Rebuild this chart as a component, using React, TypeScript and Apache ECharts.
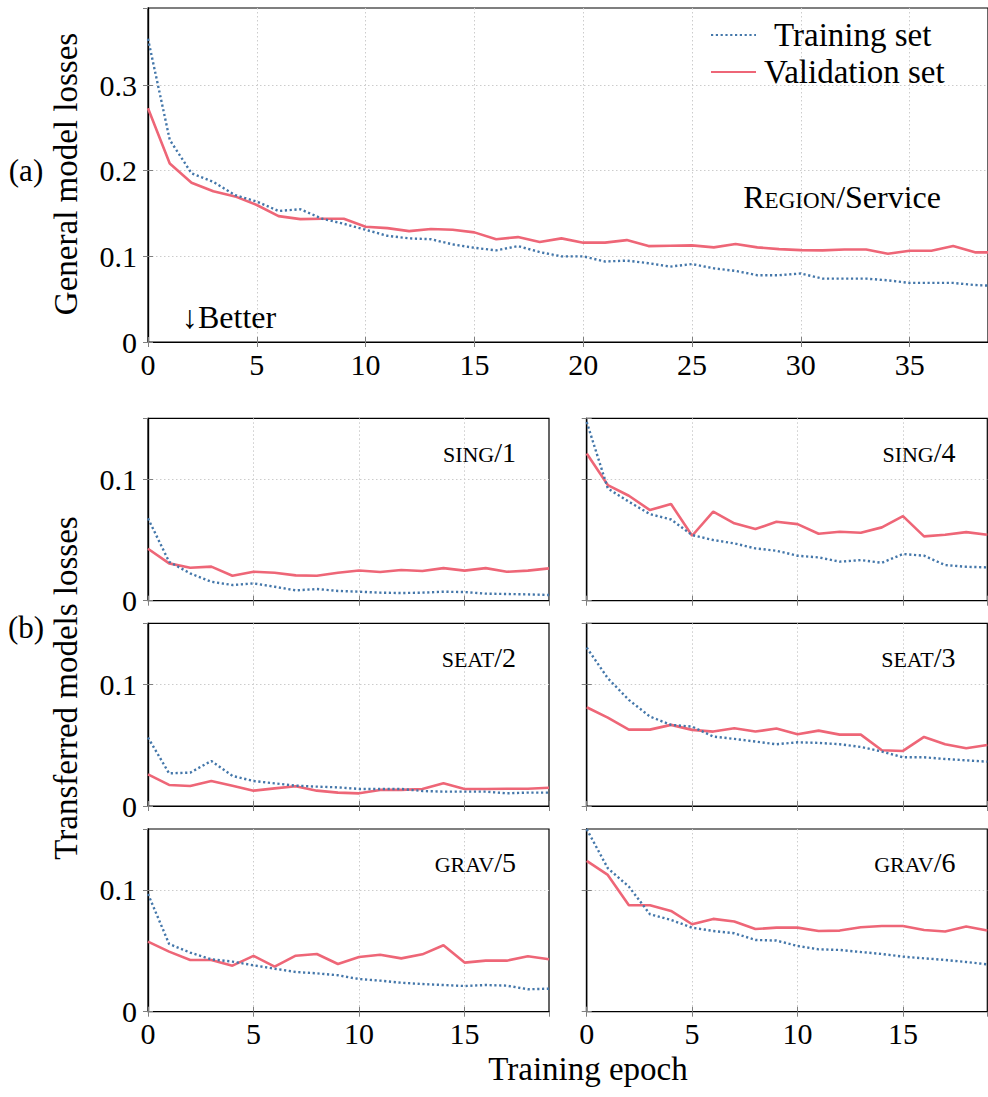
import React, { useEffect, useRef } from "react";
import * as echarts from "echarts";

// ---------- Data ----------
const generalTraining = [0.354, 0.236, 0.197, 0.187, 0.1715, 0.164, 0.153, 0.155, 0.144, 0.138, 0.131, 0.124, 0.121, 0.12, 0.114, 0.11, 0.107, 0.112, 0.105, 0.1, 0.1, 0.094, 0.095, 0.092, 0.088, 0.091, 0.086, 0.083, 0.078, 0.078, 0.08, 0.074, 0.074, 0.074, 0.072, 0.069, 0.069, 0.069, 0.0665, 0.0655];
const generalValidation = [0.273, 0.2085, 0.186, 0.176, 0.17, 0.16, 0.147, 0.1435, 0.144, 0.144, 0.1346, 0.133, 0.1295, 0.132, 0.131, 0.128, 0.12, 0.1225, 0.1167, 0.121, 0.116, 0.116, 0.119, 0.112, 0.1124, 0.1128, 0.1105, 0.1144, 0.1105, 0.1085, 0.1073, 0.107, 0.108, 0.108, 0.103, 0.1066, 0.1066, 0.112, 0.1047, 0.1047];

const sing1Training = [0.0677, 0.032, 0.0225, 0.0156, 0.0129, 0.0142, 0.0115, 0.0085, 0.0096, 0.008, 0.0074, 0.0066, 0.0063, 0.0066, 0.0074, 0.0071, 0.0058, 0.0055, 0.0052, 0.0047];
const sing1Validation = [0.0427, 0.0307, 0.0271, 0.028, 0.0205, 0.0238, 0.023, 0.0208, 0.0205, 0.023, 0.0249, 0.0236, 0.0252, 0.0244, 0.0268, 0.0247, 0.0268, 0.0238, 0.0247, 0.0266];

const sing4Training = [0.147, 0.0923, 0.0814, 0.0712, 0.0668, 0.054, 0.0499, 0.0471, 0.043, 0.0411, 0.037, 0.0356, 0.0321, 0.0334, 0.0312, 0.0384, 0.037, 0.0293, 0.0279, 0.0274];
const sing4Validation = [0.1211, 0.0951, 0.0863, 0.0745, 0.0795, 0.0534, 0.0732, 0.0636, 0.0589, 0.0649, 0.063, 0.0551, 0.0567, 0.0559, 0.0603, 0.0696, 0.0529, 0.0542, 0.0564, 0.0542];

const seat2Training = [0.0562, 0.0268, 0.0274, 0.037, 0.0247, 0.0205, 0.0186, 0.0167, 0.0159, 0.0153, 0.014, 0.014, 0.014, 0.0123, 0.0118, 0.0118, 0.0118, 0.0104, 0.011, 0.011];
const seat2Validation = [0.026, 0.0173, 0.0164, 0.0205, 0.0167, 0.0126, 0.0145, 0.0162, 0.0126, 0.011, 0.0104, 0.0132, 0.0132, 0.014, 0.0186, 0.014, 0.014, 0.0142, 0.0142, 0.015];

const seat3Training = [0.1301, 0.1049, 0.0871, 0.0734, 0.0666, 0.0652, 0.057, 0.0551, 0.0529, 0.0507, 0.0523, 0.0518, 0.0507, 0.0485, 0.0447, 0.04, 0.04, 0.0386, 0.0375, 0.0364];
const seat3Validation = [0.0811, 0.0726, 0.0627, 0.0627, 0.0666, 0.0625, 0.0611, 0.0638, 0.0611, 0.0636, 0.0589, 0.0619, 0.0586, 0.0586, 0.0458, 0.0452, 0.0567, 0.0507, 0.0474, 0.0501];

const grav5Training = [0.0967, 0.0556, 0.0485, 0.043, 0.0411, 0.0381, 0.0353, 0.0326, 0.0315, 0.0299, 0.0268, 0.0255, 0.0238, 0.0227, 0.0219, 0.0211, 0.0219, 0.0214, 0.0184, 0.0189];
const grav5Validation = [0.0575, 0.0493, 0.0425, 0.0425, 0.0378, 0.0458, 0.037, 0.046, 0.0474, 0.0392, 0.0449, 0.0468, 0.0438, 0.0471, 0.0545, 0.0403, 0.0419, 0.0419, 0.0455, 0.043];

const grav6Training = [0.1499, 0.1178, 0.1027, 0.08, 0.0753, 0.069, 0.0663, 0.0644, 0.0589, 0.0584, 0.054, 0.0512, 0.0507, 0.049, 0.0474, 0.0452, 0.0438, 0.0425, 0.0408, 0.0389];
const grav6Validation = [0.1238, 0.1123, 0.0874, 0.0874, 0.0827, 0.0718, 0.0762, 0.074, 0.0679, 0.069, 0.069, 0.0663, 0.0666, 0.0693, 0.0704, 0.0704, 0.0671, 0.0658, 0.0699, 0.0666];

const panelSmallCaps = ["SING", "SING", "SEAT", "SEAT", "GRAV", "GRAV"];
const panelNumbers = ["/1", "/4", "/2", "/3", "/5", "/6"];
const seriesNames = ["Training set", "Validation set"];

const FONT = "Liberation Serif";
const BLUE = "#4477AA";
const RED = "#EE6677";

export default function App() {
  const ref = useRef<HTMLDivElement>(null);

  useEffect(() => {
    if (!ref.current) return;
    const chart = echarts.init(ref.current, undefined, { renderer: "svg" });

    const grids = [
      { left: 148, top: 8, width: 840, height: 334 },
      { left: 148, top: 418.3, width: 401, height: 182.4 },
      { left: 586.7, top: 418.3, width: 400.6, height: 182.4 },
      { left: 148, top: 623.3, width: 401, height: 182.7 },
      { left: 586.7, top: 623.3, width: 400.6, height: 182.7 },
      { left: 148, top: 829, width: 401, height: 182.7 },
      { left: 586.7, top: 829, width: 400.6, height: 182.7 },
    ];
    const xMaxes = [38.6, 19, 19, 19, 19, 19, 19];
    const yMaxes = [0.39, 0.15, 0.15, 0.15, 0.15, 0.15, 0.15];
    const showX = [true, false, false, false, false, true, true];
    const showY = [true, true, false, true, false, true, false];
    const trainSets = [generalTraining, sing1Training, sing4Training, seat2Training, seat3Training, grav5Training, grav6Training];
    const valSets = [generalValidation, sing1Validation, sing4Validation, seat2Validation, seat3Validation, grav5Validation, grav6Validation];

    const tickStyle = { show: true, inside: true, length: 5, lineStyle: { color: "#808080", width: 1 } };
    const splitStyle = { show: true, showMinLine: false, showMaxLine: false, lineStyle: { color: "#cccccc", width: 1, type: [1.5, 2.5] as any } };
    const labelFont = { fontFamily: FONT, fontSize: 30, color: "#000" };

    const xAxes: any[] = [];
    const yAxes: any[] = [];
    const series: any[] = [];

    grids.forEach((g, i) => {
      xAxes.push({
        type: "value", gridIndex: i, min: 0, max: xMaxes[i], interval: 5, position: "bottom",
        axisLine: { show: true, onZero: false, lineStyle: { color: "#000", width: 1.2 } },
        axisTick: tickStyle,
        axisLabel: {
          show: showX[i], ...labelFont, margin: 7, showMaxLabel: false,
          formatter: (v: number) => (Number.isInteger(v) && v % 5 === 0 ? String(v) : ""),
        },
        splitLine: splitStyle,
      });
      xAxes.push({
        type: "value", gridIndex: i, min: 0, max: xMaxes[i], interval: 5, position: "top",
        axisLine: { show: true, lineStyle: { color: "#000", width: 1.2 } },
        axisTick: tickStyle, axisLabel: { show: false }, splitLine: { show: false },
      });
      yAxes.push({
        type: "value", gridIndex: i, min: 0, max: yMaxes[i], interval: 0.1, position: "left",
        axisLine: { show: true, onZero: false, lineStyle: { color: "#000", width: 1.2 } },
        axisTick: tickStyle,
        axisLabel: {
          show: showY[i], ...labelFont, margin: 11, showMaxLabel: false,
          formatter: (v: number) => {
            const r = Math.round(v * 10) / 10;
            if (Math.abs(r - v) > 1e-6) return "";
            return r === 0 ? "0" : r.toFixed(1);
          },
        },
        splitLine: splitStyle,
      });
      yAxes.push({
        type: "value", gridIndex: i, min: 0, max: yMaxes[i], interval: 0.1, position: "right",
        axisLine: { show: true, lineStyle: { color: "#000", width: 1.2 } },
        axisTick: tickStyle, axisLabel: { show: false }, splitLine: { show: false },
      });

      series.push({
        name: seriesNames[0], type: "line", xAxisIndex: 2 * i, yAxisIndex: 2 * i,
        data: trainSets[i].map((v, k) => [k, v]), symbol: "none", clip: true,
        lineStyle: { color: BLUE, width: 2.4, type: [2.2, 2.6] }, itemStyle: { color: BLUE },
        z: 3,
      });
      series.push({
        name: seriesNames[1], type: "line", xAxisIndex: 2 * i, yAxisIndex: 2 * i,
        data: valSets[i].map((v, k) => [k, v]), symbol: "none", clip: true,
        lineStyle: { color: RED, width: 2.6, type: "solid" }, itemStyle: { color: RED },
        z: 2,
      });
    });

    const panelPos = [
      { right: 516, y: 452 }, { right: 955.5, y: 452 },
      { right: 516, y: 657.5 }, { right: 955.5, y: 657.5 },
      { right: 516, y: 862.5 }, { right: 955.5, y: 862.5 },
    ];

    const txt = (size: number) => ({ fontFamily: FONT, fontSize: size, fill: "#000" });

    const graphics: any[] = [
      { type: "text", x: 26, y: 170, style: { text: "(a)", ...txt(31), align: "center", verticalAlign: "middle" } },
      { type: "text", x: 26, y: 627, style: { text: "(b)", ...txt(31), align: "center", verticalAlign: "middle" } },
      {
        type: "text", x: 66, y: 174, rotation: Math.PI / 2,
        style: { text: "General model losses", ...txt(33), align: "center", verticalAlign: "middle" },
      },
      {
        type: "text", x: 66, y: 688, rotation: Math.PI / 2,
        style: { text: "Transferred models losses", ...txt(33), align: "center", verticalAlign: "middle" },
      },
      {
        type: "text", x: 588, y: 1069,
        style: { text: "Training epoch", ...txt(33), align: "center", verticalAlign: "middle" },
      },
      {
        type: "text", x: 182, y: 317,
        style: { text: "↓Better", ...txt(32), align: "left", verticalAlign: "middle" },
      },
      {
        type: "text", x: 941, y: 197,
        style: {
          text: "{b|R}{s|EGION}{b|/Service}", align: "right", verticalAlign: "middle", fill: "#000",
          rich: {
            b: { fontFamily: FONT, fontSize: 32, verticalAlign: "bottom", lineHeight: 32, fill: "#000" },
            s: { fontFamily: FONT, fontSize: 23, verticalAlign: "bottom", lineHeight: 23, padding: [0, 0, 1, 0], fill: "#000" },
          },
        },
      },
    ];
    panelPos.forEach((p, i) => {
      graphics.push({
        type: "text", x: p.right, y: p.y,
        style: {
          text: `{s|${panelSmallCaps[i]}}{n|${panelNumbers[i]}}`, align: "right", verticalAlign: "middle", fill: "#000",
          rich: {
            s: { fontFamily: FONT, fontSize: 22, verticalAlign: "bottom", lineHeight: 22, padding: [0, 0, 1, 0], fill: "#000" },
            n: { fontFamily: FONT, fontSize: 28, verticalAlign: "bottom", lineHeight: 28, fill: "#000" },
          },
        },
      });
    });

    chart.setOption({
      animation: false,
      backgroundColor: "#fff",
      textStyle: { fontFamily: FONT },
      grid: grids.map((g) => ({ ...g, show: true, borderColor: "#000", borderWidth: 1.2, backgroundColor: "transparent", containLabel: false })),
      xAxis: xAxes,
      yAxis: yAxes,
      legend: {
        data: [
          { name: seriesNames[0], textStyle: { padding: [0, 0, 0, 13] } },
          { name: seriesNames[1], textStyle: { padding: [0, 0, 0, 3] } },
        ],
        orient: "vertical",
        left: 705,
        top: 13,
        itemWidth: 45,
        itemHeight: 20,
        itemGap: 3,
        itemStyle: { opacity: 0 },
        textStyle: { fontFamily: FONT, fontSize: 33, color: "#000", lineHeight: 34 },
        selectedMode: false,
      },
      series,
      graphic: graphics,
    });

    return () => chart.dispose();
  }, []);

  return <div ref={ref} style={{ position: "absolute", left: 0, top: 0, width: 988, height: 1097, background: "#fff" }} />;
}
